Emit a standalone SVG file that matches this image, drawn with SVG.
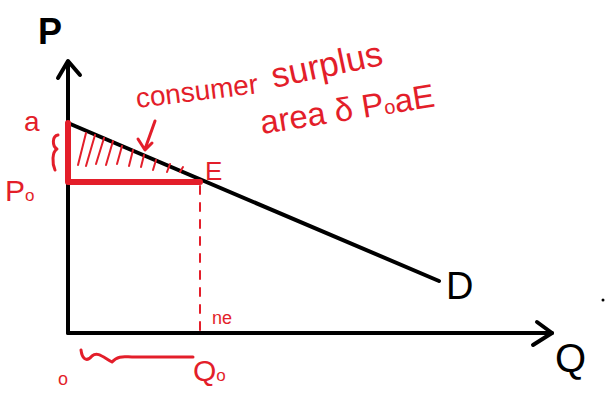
<svg xmlns="http://www.w3.org/2000/svg" width="612" height="397" viewBox="0 0 612 397">
<style>
.ax{stroke:#000;stroke-width:4;fill:none;stroke-linecap:round;stroke-linejoin:round}
.rd{stroke:#e31e2a;fill:none;stroke-linecap:round;stroke-linejoin:round}
.rt{fill:#e31e2a;font-family:"Comic Sans MS","Liberation Sans",sans-serif}
.bt{fill:#000;font-family:"Liberation Sans",sans-serif}
</style>
<rect width="612" height="397" fill="#fff"/>
<g id="connectors">
<path class="ax" d="M68,333 L68,62"/>
<path class="ax" d="M58,78 L68,61 L80,75"/>
<path class="ax" d="M68,333 L552,333"/>
<path class="ax" d="M537,322 L552,333 L533,345"/>
<path class="ax" d="M68,123 L439,281" stroke-width="3.5"/>
<path class="rd" stroke-width="6" d="M68,123 L68,182 L200,182"/>
<path class="rd" stroke-width="2" stroke-dasharray="8,9" d="M200,186 L200,333"/>
<path class="rd" stroke-width="2" d="M78,165 L86,133 M86,166 L95,135 M96,164 L104,138 M106,165 L113,141 M117,164 L122,146 M129,166 L133,150 M141,167 L144,155 M153,170 L156,160 M167,172 L170,164 M180,172 L183,167"/>
<path class="rd" stroke-width="3" d="M155,121 L145,149 M138,139 L145,150 L152,143"/>
<path class="rd" stroke-width="3" d="M58,135 C52,136 52,146 57,149 C52,152 52,163 55,170"/>
<path class="rd" stroke-width="3" d="M81,350 C82,358 86,363 92,356 C98,351 104,358 112,362 C118,355 125,357 132,357 L193,357"/>
</g>
<g id="node-P"><text class="bt" x="38" y="44" font-size="36" font-weight="bold">P</text></g>
<g id="node-Q"><text class="bt" x="555" y="372" font-size="40">Q</text></g>
<g id="node-D"><text class="bt" x="446" y="299" font-size="38">D</text></g>
<g id="node-dot"><circle cx="603" cy="300" r="1.5" fill="#000"/></g>
<g id="node-a"><text class="rt" x="24" y="131" font-size="28">a</text></g>
<g id="node-P0"><text class="rt" x="5" y="201" font-size="30">P<tspan font-size="17">o</tspan></text></g>
<g id="node-E"><text class="rt" x="205" y="180" font-size="26">E</text></g>
<g id="node-ne"><text class="rt" x="212" y="324" font-size="18">ne</text></g>
<g id="node-O"><text class="rt" x="58" y="385" font-size="18">o</text></g>
<g id="node-Q0"><text class="rt" x="193" y="381" font-size="30">Q<tspan font-size="17">o</tspan></text></g>
<g id="node-label">
<text class="rt" x="137" y="108" font-size="28" transform="rotate(-7 137 108)">consumer</text>
<text class="rt" x="274" y="88" font-size="35" transform="rotate(-12 274 88)">surplus</text>
<text class="rt" x="262" y="134" font-size="33" transform="rotate(-9 262 134)">area δ P<tspan font-size="20">o</tspan>aE</text>
</g>
</svg>
